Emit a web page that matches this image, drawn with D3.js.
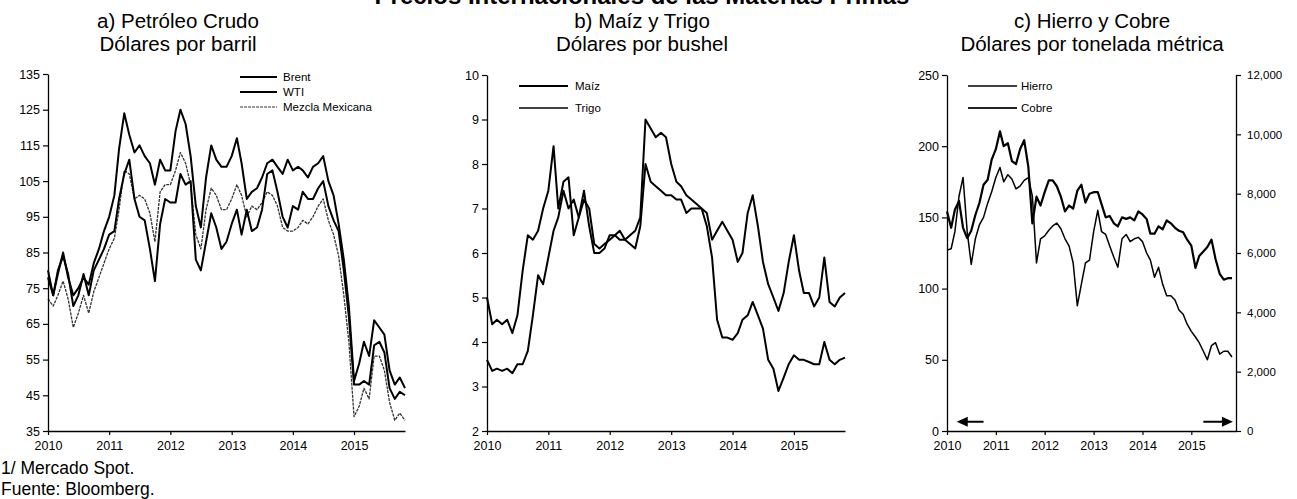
<!DOCTYPE html>
<html>
<head>
<meta charset="utf-8">
<script src="https://cdn.jsdelivr.net/npm/d3@7"></script>
<style>
  body { margin: 0; background: #fff; }
  svg { display: block; }
  text { font-family: "Liberation Sans", Arial, sans-serif; fill: #000; }
</style>
</head>
<body>
<svg id="chart" width="1297" height="499"></svg>
<script>
// ---------- DATA (monthly readings, Jan 2010 – Nov 2015) ----------
const dates = d3.timeMonth.range(new Date(2010, 0, 1), new Date(2015, 11, 1));
const yearTicks = d3.timeYear.range(new Date(2010, 0, 1), new Date(2016, 0, 1));

// a) Crude oil, USD per barrel
const brent = [
  78, 73, 79, 85, 78, 73, 75, 78, 76, 82, 86, 91,
  95, 101, 114, 124, 118, 113, 115, 112, 110, 104, 111, 108,
  108, 119, 125, 121, 112, 98, 92, 106, 115, 111, 109, 109,
  112, 117, 110, 100, 102, 103, 106, 110, 111, 109, 107, 111,
  108, 109, 108, 106, 109, 110, 112, 105, 101, 93, 83, 70,
  49, 54, 60, 56, 66, 64, 62, 52, 48, 50, 47
];
const wti = [
  80, 73, 80, 84, 79, 70, 73, 79, 73, 80, 83, 86,
  90, 91, 100, 107, 111, 100, 95, 94, 86, 77, 93, 100,
  99, 99, 107, 104, 105, 83, 80, 88, 96, 92, 86, 88,
  93, 97, 90, 97, 91, 92, 97, 107, 108, 102, 95, 92,
  98, 97, 102, 100, 100, 103, 105, 98, 94, 91, 80, 67,
  48, 48, 49, 48, 59, 60, 57, 47, 44, 46, 45
];
const mezcla = [
  72, 70, 73, 77, 72, 64, 68, 73, 68, 74, 78, 82,
  86, 89, 97, 108, 107, 100, 101, 100, 96, 88, 102, 104,
  104, 108, 113, 110, 104, 90, 86, 97, 103, 101, 97, 97,
  100, 104, 101, 95, 98, 97, 99, 102, 101, 98, 92, 91,
  91, 92, 94, 93, 95, 98, 100, 94, 90, 84, 73, 60,
  39, 42, 47, 44, 56, 56, 52, 43, 38, 40, 38
];
const oilTicks = [35, 45, 55, 65, 75, 85, 95, 105, 115, 125, 135];

// b) Corn and wheat, USD per bushel
const maiz = [
  3.6, 3.35, 3.4, 3.35, 3.4, 3.3, 3.5, 3.5, 3.8, 4.6, 5.5, 5.3,
  5.9, 6.5, 6.8, 7.4, 7.0, 7.2, 6.8, 7.2, 7.0, 6.2, 6.1, 6.2,
  6.3, 6.4, 6.5, 6.3, 6.2, 6.1, 6.6, 8.0, 7.6, 7.5, 7.4, 7.3,
  7.3, 7.2, 7.2, 6.9, 7.0, 7.0, 7.0, 6.6, 5.9, 4.5, 4.1, 4.1,
  4.05, 4.2, 4.5, 4.6, 4.9, 4.6, 4.3, 3.6, 3.4, 2.9, 3.2, 3.5,
  3.7, 3.6, 3.6, 3.55, 3.5, 3.5, 4.0, 3.6, 3.5, 3.6, 3.65
];
const trigo = [
  5.0, 4.4, 4.5, 4.4, 4.5, 4.2, 4.6, 5.6, 6.4, 6.3, 6.5, 7.0,
  7.4, 8.4, 7.0, 7.6, 7.7, 6.4, 6.8, 7.4, 6.6, 6.0, 6.0, 6.1,
  6.4, 6.4, 6.3, 6.3, 6.4, 6.5, 6.8, 9.0, 8.8, 8.6, 8.7, 8.6,
  8.0, 7.6, 7.5, 7.3, 7.2, 7.1, 7.0, 6.9, 6.3, 6.5, 6.7, 6.5,
  6.3, 5.8, 6.0, 6.9, 7.3, 6.6, 5.8, 5.3, 5.0, 4.7, 5.1, 5.8,
  6.4, 5.6, 5.1, 5.1, 4.8, 5.0, 5.9, 4.9, 4.8, 5.0, 5.1
];
const grainTicks = [2, 3, 4, 5, 6, 7, 8, 9, 10];

// c) Iron ore (left axis) and copper (right axis), USD per metric ton
const hierro = [
  127, 128, 140, 165, 178, 140, 117, 135, 145, 150, 160, 168,
  178, 185, 175, 180, 177, 170, 172, 176, 178, 165, 118, 135,
  137, 141, 144, 146, 142, 135, 130, 118, 88, 103, 118, 120,
  140, 155, 140, 138, 130, 122, 115, 135, 138, 133, 135, 136,
  133, 125, 120, 108, 115, 103, 95, 95, 92, 85, 82, 75,
  70, 66, 62, 56, 50, 60, 62, 54, 56, 56, 52
];
const cobre = [
  7400, 6850, 7460, 7750, 6850, 6500, 6750, 7280, 7700, 8300, 8470, 9150,
  9500, 10100, 9600, 9700, 9100, 9000, 9500, 9800, 8900, 7000, 7900, 7600,
  8050, 8450, 8450, 8250, 7900, 7400, 7600, 7500, 8100, 8300, 7700, 8000,
  8050, 8050, 7650, 7200, 7250, 7000, 6900, 7200, 7150, 7200, 7100, 7400,
  7300, 7150, 6650, 6650, 6900, 6800, 7100, 7000, 6850, 6750, 6700, 6450,
  6250, 5500, 5900, 6050, 6200, 6450, 5800, 5300, 5100, 5150, 5150
];
const ironTicks = [0, 50, 100, 150, 200, 250];
const copperTicks = [0, 2000, 4000, 6000, 8000, 10000, 12000];

// ---------- DRAWING ----------
const svg = d3.select("#chart");
const fmtYear = d3.timeFormat("%Y");

svg.append("text")
  .attr("x", 642).attr("y", 3.5)
  .attr("text-anchor", "middle")
  .style("font-weight", "bold").style("font-size", "24px")
  .text("Precios Internacionales de las Materias Primas");

function styleAxis(g, fontSize) {
  g.select(".domain").attr("stroke", "#000").attr("stroke-width", 1.3);
  g.selectAll(".tick line").attr("stroke", "#000").attr("stroke-width", 1.2);
  g.selectAll(".tick text").style("font-size", fontSize).attr("fill", "#000")
    .style("font-family", '"Liberation Sans", Arial, sans-serif');
}

function titles(cx, t1, t2) {
  svg.append("text").attr("x", cx).attr("y", 27.5).attr("text-anchor", "middle")
    .style("font-size", "20.5px").text(t1);
  svg.append("text").attr("x", cx).attr("y", 50.5).attr("text-anchor", "middle")
    .style("font-size", "20.5px").text(t2);
}

function xAxis(x, yBottom) {
  const g = svg.append("g").attr("transform", `translate(0,${yBottom})`)
    .call(d3.axisBottom(x).tickValues(yearTicks).tickFormat(fmtYear)
      .tickSize(4).tickSizeOuter(0).tickPadding(6));
  styleAxis(g, "12.5px");
}

function legend(items, x0, x1, tx) {
  items.forEach(it => {
    svg.append("line").attr("x1", x0).attr("x2", x1).attr("y1", it.y).attr("y2", it.y)
      .attr("stroke", it.color || "#000").attr("stroke-width", it.w)
      .attr("stroke-dasharray", it.dash || null);
    svg.append("text").attr("x", tx).attr("y", it.y + 4)
      .style("font-size", "11.5px").text(it.label);
  });
}

function drawLine(values, x, y, opts) {
  const line = d3.line().x((d, i) => x(dates[i])).y(d => y(d));
  svg.append("path").datum(values)
    .attr("fill", "none")
    .attr("stroke", opts.color || "#000")
    .attr("stroke-width", opts.w)
    .attr("stroke-dasharray", opts.dash || null)
    .attr("stroke-linejoin", "round")
    .attr("d", line);
}

// Panel a
{
  const x = d3.scaleTime().domain([new Date(2010, 0, 1), new Date(2015, 10, 1)]).range([48, 405]);
  const y = d3.scaleLinear().domain([35, 135]).range([431, 74]);
  titles(178, "a) Petróleo Crudo", "Dólares por barril");
  drawLine(mezcla, x, y, { w: 1.3, color: "#333", dash: "3,1" });
  drawLine(wti, x, y, { w: 2 });
  drawLine(brent, x, y, { w: 2 });
  const gy = svg.append("g").attr("transform", "translate(48,0)")
    .call(d3.axisLeft(y).tickValues(oilTicks).tickSize(5).tickSizeOuter(0).tickPadding(3));
  styleAxis(gy, "12.5px");
  xAxis(x, 431);
  legend([
    { y: 77, label: "Brent", w: 2 },
    { y: 92, label: "WTI", w: 2 },
    { y: 107, label: "Mezcla Mexicana", w: 1, color: "#333", dash: "3,1" }
  ], 240, 277, 283);
}

// Panel b
{
  const x = d3.scaleTime().domain([new Date(2010, 0, 1), new Date(2015, 10, 1)]).range([487, 845]);
  const y = d3.scaleLinear().domain([2, 10]).range([431, 75]);
  titles(642, "b) Maíz y Trigo", "Dólares por bushel");
  drawLine(trigo, x, y, { w: 2 });
  drawLine(maiz, x, y, { w: 2 });
  const gy = svg.append("g").attr("transform", "translate(487,0)")
    .call(d3.axisLeft(y).tickValues(grainTicks).tickSize(5).tickSizeOuter(0).tickPadding(3));
  styleAxis(gy, "12.5px");
  xAxis(x, 431);
  legend([
    { y: 86, label: "Maíz", w: 2 },
    { y: 108, label: "Trigo", w: 1.6 }
  ], 519, 568, 575);
}

// Panel c
{
  const x = d3.scaleTime().domain([new Date(2010, 0, 1), new Date(2015, 11, 1)]).range([947, 1236]);
  const yL = d3.scaleLinear().domain([0, 250]).range([431, 75]);
  const yR = d3.scaleLinear().domain([0, 12000]).range([431, 75]);
  titles(1092, "c) Hierro y Cobre", "Dólares por tonelada métrica");
  drawLine(hierro, x, yL, { w: 1.5 });
  drawLine(cobre, x, yR, { w: 2.2 });
  const gl = svg.append("g").attr("transform", "translate(947,0)")
    .call(d3.axisLeft(yL).tickValues(ironTicks).tickSize(5).tickSizeOuter(0).tickPadding(3));
  styleAxis(gl, "12.5px");
  const gr = svg.append("g").attr("transform", "translate(1236,0)")
    .call(d3.axisRight(yR).tickValues(copperTicks).tickFormat(d3.format(",")).tickSize(5).tickSizeOuter(0).tickPadding(6));
  styleAxis(gr, "11.5px");
  xAxis(x, 431);
  legend([
    { y: 86, label: "Hierro", w: 1.6 },
    { y: 108, label: "Cobre", w: 2, color: "#222" }
  ], 968, 1017, 1021);

  // axis-indicator arrows
  const arrows = [
    { from: x(new Date(2010, 9, 1)), to: x(new Date(2010, 2, 15)) },
    { from: x(new Date(2015, 3, 1)), to: x(new Date(2015, 10, 8)) }
  ];
  arrows.forEach(a => {
    const yA = yL(6.5);
    const dir = Math.sign(a.to - a.from);
    svg.append("line").attr("x1", a.from).attr("x2", a.to - dir * 8)
      .attr("y1", yA).attr("y2", yA).attr("stroke", "#000").attr("stroke-width", 2);
    svg.append("path")
      .attr("d", `M${a.to},${yA} L${a.to - dir * 11},${yA - 5} L${a.to - dir * 11},${yA + 5} Z`)
      .attr("fill", "#000");
  });
}

// Footnotes
svg.append("text").attr("x", 1).attr("y", 474).style("font-size", "17.5px").text("1/ Mercado Spot.");
svg.append("text").attr("x", 1).attr("y", 495).style("font-size", "17.5px").text("Fuente: Bloomberg.");
</script>
</body>
</html>
